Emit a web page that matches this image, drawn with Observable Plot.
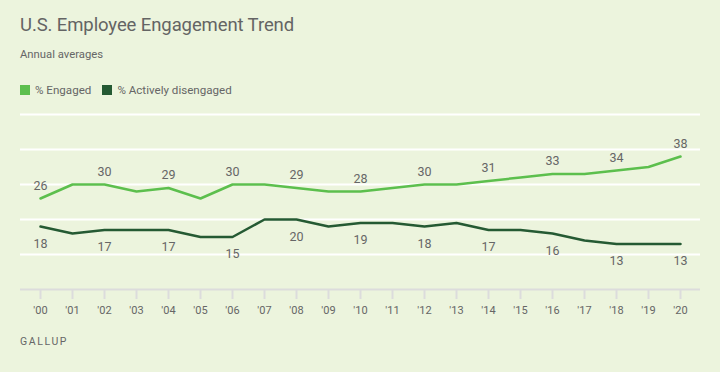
<!DOCTYPE html>
<html>
<head>
<meta charset="utf-8">
<script src="https://cdn.jsdelivr.net/npm/d3@7"></script>
<script src="https://cdn.jsdelivr.net/npm/@observablehq/plot@0.6"></script>
<style>
  html, body { margin: 0; padding: 0; background: #ECF4DD; width: 720px; height: 372px; overflow: hidden; font-family: Roboto, "Open Sans", sans-serif; color: #666; }
  #title { position: absolute; left: 20px; top: 14px; font-size: 18.5px; color: #646464; white-space: nowrap; letter-spacing: -0.1px; }
  #subtitle { position: absolute; left: 20px; top: 48px; font-size: 11.3px; color: #666; }
  #legend { position: absolute; left: 20px; top: 83px; font-size: 11.6px; color: #666; display: flex; align-items: center; }
  .sw { display: inline-block; width: 10px; height: 10px; margin-right: 5px; }
  .item { display: flex; align-items: center; margin-right: 11px; }
  #chart { position: absolute; left: 0; top: 100px; }
  #source { position: absolute; left: 20px; top: 335px; font-size: 10.5px; letter-spacing: 1.6px; color: #666; }
</style>
</head>
<body>
<div id="title">U.S. Employee Engagement Trend</div>
<div id="subtitle">Annual averages</div>
<div id="legend"></div>
<div id="chart"></div>
<div id="source">GALLUP</div>
<script>
const years = [2000,2001,2002,2003,2004,2005,2006,2007,2008,2009,2010,2011,2012,2013,2014,2015,2016,2017,2018,2019,2020];
const engaged = [26,30,30,28,29,26,30,30,29,28,28,29,30,30,31,32,33,33,34,35,38];
const disengaged = [18,16,17,17,17,15,15,20,20,18,19,19,18,19,17,17,16,14,13,13,13];
const seriesNames = ["% Engaged", "% Actively disengaged"];
const seriesColors = ["#5CBF4D", "#255A33"];
const gridValues = [10, 20, 30, 40, 50];

const data = [];
years.forEach((y, i) => {
  data.push({year: y, value: engaged[i], series: seriesNames[0]});
  data.push({year: y, value: disengaged[i], series: seriesNames[1]});
});
const labeled = d => d.year % 2 === 0;

const legend = document.getElementById("legend");
seriesNames.forEach((n, i) => {
  const it = document.createElement("span");
  it.className = "item";
  it.innerHTML = `<span class="sw" style="background:${seriesColors[i]}"></span>${n}`;
  legend.appendChild(it);
});

const chart = Plot.plot({
  width: 720,
  height: 230,
  marginTop: 14,
  marginBottom: 41,
  marginLeft: 20,
  marginRight: 20,
  style: {background: "transparent", fontFamily: "Roboto, sans-serif", color: "#666"},
  x: {domain: [1999.375, 2020.625]},
  y: {domain: [0, 50], axis: null},
  color: {domain: seriesNames, range: seriesColors},
  marks: [
    Plot.ruleY(gridValues, {stroke: "#fff", strokeWidth: 2}),
    Plot.ruleY([0], {stroke: "#dcdcdc", strokeWidth: 2}),
    Plot.axisX({ticks: years, tickFormat: d => "'" + String(d).slice(2), tickSize: 10, tickPadding: 7, stroke: "#dcdcdc", strokeWidth: 2, fontSize: 11, fill: "#666", label: null}),
    Plot.line(data, {x: "year", y: "value", z: "series", stroke: "series", strokeWidth: 2.5}),
    Plot.text(data.filter(d => d.series === seriesNames[0] && labeled(d)), {x: "year", y: "value", text: "value", dy: -13, fontSize: 12.5, fill: "#666"}),
    Plot.text(data.filter(d => d.series === seriesNames[1] && labeled(d)), {x: "year", y: "value", text: "value", dy: 17, fontSize: 12.5, fill: "#666"})
  ]
});
document.getElementById("chart").appendChild(chart);
</script>
</body>
</html>
